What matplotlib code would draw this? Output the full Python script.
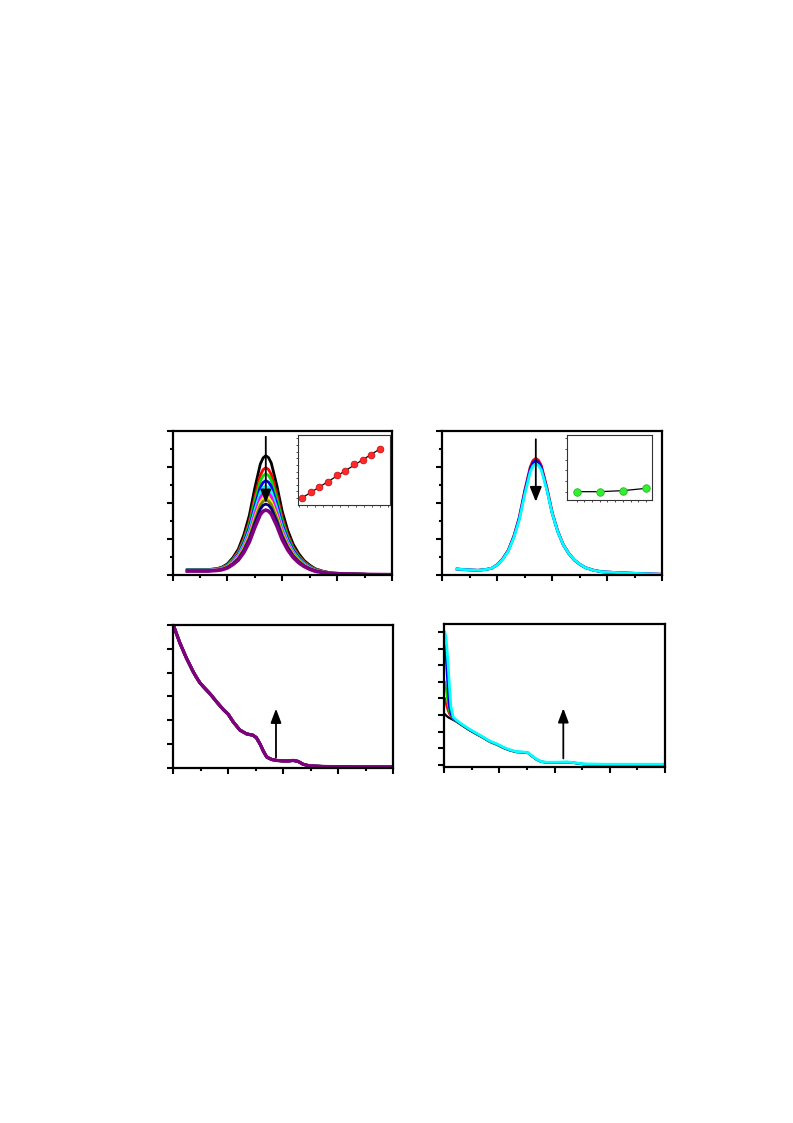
import matplotlib
matplotlib.use("Agg")
import matplotlib.pyplot as plt
from matplotlib.ticker import MultipleLocator
import numpy as np

# ---------------- data ----------------
# Panel 1 / 2 : emission-like spectra (wavelength grid)
x12 = [427, 445, 465, 480, 490, 500, 510, 520, 530, 540, 550, 560, 565, 570, 575, 580,
       590, 600, 610, 620, 630, 640, 650, 660, 675, 690, 720, 760, 800]

p1_colors = ["black", "red", "#00dd00", "blue", "cyan", "magenta", "#eeee00",
             "#808000", "#000080", "#800080"]
p1_black = [.30, .30, .30, .35, .43, .62, .96, 1.44, 2.23, 3.31, 4.83, 6.16, 6.50, 6.63, 6.52, 6.22,
            4.99, 3.53, 2.48, 1.71, 1.19, .80, .55, .35, .20, .11, .07, .03, .02]
p1_red = [.29, .29, .29, .34, .40, .57, .89, 1.31, 2.02, 2.98, 4.34, 5.53, 5.85, 5.96, 5.86, 5.59,
          4.49, 3.18, 2.24, 1.54, 1.08, .73, .50, .32, .19, .11, .06, .03, .02]
p1_green = [.28, .28, .28, .32, .39, .55, .84, 1.24, 1.91, 2.82, 4.10, 5.22, 5.51, 5.62, 5.53, 5.27,
            4.24, 3.00, 2.11, 1.46, 1.02, .69, .47, .31, .18, .10, .06, .03, .02]
p1_blue = [.27, .27, .27, .31, .37, .52, .79, 1.17, 1.79, 2.63, 3.82, 4.87, 5.14, 5.24, 5.16, 4.92,
           3.96, 2.81, 1.98, 1.37, .96, .65, .44, .29, .17, .10, .06, .03, .02]
p1_cyan = [.27, .27, .27, .31, .36, .50, .76, 1.11, 1.69, 2.49, 3.61, 4.59, 4.85, 4.94, 4.86, 4.64,
           3.73, 2.65, 1.87, 1.29, .90, .62, .42, .27, .16, .09, .06, .03, .02]
p1_magenta = [.26, .26, .26, .30, .35, .48, .72, 1.05, 1.59, 2.34, 3.39, 4.30, 4.54, 4.63, 4.56, 4.35,
              3.50, 2.49, 1.76, 1.22, .85, .58, .40, .26, .16, .09, .06, .03, .02]
p1_yellow = [.25, .25, .25, .28, .33, .46, .68, .99, 1.50, 2.20, 3.18, 4.04, 4.27, 4.35, 4.28, 4.08,
             3.29, 2.34, 1.66, 1.15, .81, .55, .38, .25, .15, .09, .06, .03, .02]
p1_dkyellow = [.24, .24, .24, .27, .32, .44, .65, .95, 1.44, 2.11, 3.05, 3.88, 4.09, 4.17, 4.10, 3.92,
               3.16, 2.25, 1.59, 1.10, .78, .53, .36, .24, .15, .09, .06, .03, .02]
p1_navy = [.23, .23, .23, .26, .30, .42, .62, .90, 1.36, 1.99, 2.88, 3.66, 3.87, 3.94, 3.88, 3.70,
           2.99, 2.13, 1.51, 1.05, .74, .50, .35, .23, .14, .08, .06, .03, .02]
p1_purple = [.22, .22, .22, .25, .29, .39, .58, .83, 1.25, 1.83, 2.64, 3.36, 3.54, 3.61, 3.55, 3.39,
             2.74, 1.96, 1.39, .97, .68, .47, .32, .21, .13, .08, .05, .03, .02]
p1_series = [p1_black, p1_red, p1_green, p1_blue, p1_cyan, p1_magenta, p1_yellow,
             p1_dkyellow, p1_navy, p1_purple]

# inset 1 (linear)
ins1_x = [1, 2, 3, 4, 5, 6, 7, 8, 9, 10]
ins1_y = [0.095, 0.18, 0.25, 0.33, 0.43, 0.49, 0.58, 0.64, 0.71, 0.805]

# panel 2
p2_colors = ["red", "blue", "cyan"]
p2_red = [.33, .29, .26, .31, .38, .57, .91, 1.38, 2.16, 3.21, 4.71, 6.01, 6.36, 6.48, 6.37, 6.08,
          4.88, 3.46, 2.44, 1.70, 1.21, .84, .60, .41, .27, .18, .13, .08, .04]
p2_blue = [.33, .29, .26, .31, .38, .57, .90, 1.36, 2.12, 3.16, 4.62, 5.90, 6.24, 6.36, 6.26, 5.96,
           4.79, 3.40, 2.40, 1.67, 1.18, .83, .59, .41, .26, .18, .13, .08, .04]
p2_cyan = [.33, .29, .26, .31, .38, .56, .88, 1.33, 2.07, 3.07, 4.49, 5.74, 6.06, 6.18, 6.08, 5.84,
           4.74, 3.40, 2.40, 1.68, 1.19, .84, .60, .41, .26, .18, .13, .08, .04]
p2_series = [p2_red, p2_blue, p2_cyan]

# inset 2
ins2_x = [1, 2, 3, 4]
ins2_y = [0.128, 0.128, 0.144, 0.179]

# panel 3 : absorption spectrum (all traces overlap)
x3 = [200, 212, 224, 230, 236, 242, 248, 254, 267, 279, 291, 300, 309, 321, 333, 345, 351,
      358, 364, 370, 379, 388, 400, 409, 418, 427, 436, 448, 479, 539, 600]
abs3 = [3.00, 2.62, 2.30, 2.16, 2.02, 1.90, 1.79, 1.71, 1.55, 1.38, 1.22, 1.12, 0.96, 0.79,
        0.71, 0.68, 0.63, 0.49, 0.34, 0.22, 0.17, 0.15, 0.14, 0.14, 0.15, 0.13, 0.07, 0.035,
        0.021, 0.014, 0.014]

# panel 4 : absorption spectra
x4 = [201, 203, 205, 207, 209, 212, 216, 222, 234, 246, 259, 271, 283, 295, 307, 319,
      331, 343, 352, 358, 367, 376, 386, 404, 422, 434, 452, 488, 537, 600]
p4_colors = ["black", "red", "#00dd00", "blue", "cyan"]
p4_black = [3.05, 2.98, 2.92, 2.87, 2.83, 2.78, 2.71, 2.60, 2.33, 2.07, 1.83, 1.61, 1.37,
            1.21, 1.01, 0.86, 0.76, 0.74, 0.70, 0.53, 0.31, 0.17, 0.13, 0.13, 0.15, 0.11,
            0.03, 0.02, 0.02, 0.02]
p4_red = [4.00, 3.70, 3.45, 3.25, 3.08, 2.92, 2.76, 2.63, 2.36, 2.10, 1.85, 1.63, 1.39,
          1.23, 1.03, 0.87, 0.77, 0.75, 0.71, 0.54, 0.32, 0.18, 0.14, 0.14, 0.16, 0.12,
          0.04, 0.02, 0.02, 0.02]
p4_green = [5.00, 4.60, 4.10, 3.60, 3.25, 3.00, 2.78, 2.64, 2.36, 2.10, 1.85, 1.63, 1.39,
            1.23, 1.03, 0.87, 0.77, 0.75, 0.71, 0.54, 0.32, 0.18, 0.14, 0.14, 0.16, 0.12,
            0.04, 0.02, 0.02, 0.02]
p4_blue = [7.20, 6.50, 5.40, 4.30, 3.50, 3.05, 2.80, 2.65, 2.37, 2.11, 1.86, 1.64, 1.40,
           1.24, 1.04, 0.88, 0.78, 0.76, 0.72, 0.55, 0.33, 0.18, 0.14, 0.14, 0.16, 0.12,
           0.04, 0.02, 0.02, 0.02]
p4_cyan = [8.00, 7.70, 6.90, 6.00, 4.90, 3.50, 2.88, 2.69, 2.40, 2.14, 1.89, 1.66, 1.42,
           1.26, 1.06, 0.90, 0.79, 0.77, 0.73, 0.56, 0.34, 0.19, 0.15, 0.15, 0.17, 0.13,
           0.05, 0.03, 0.03, 0.03]
p4_series = [p4_black, p4_red, p4_green, p4_blue, p4_cyan]

# ---------------- figure ----------------
W, H = 793, 1123
fig = plt.figure(figsize=(W / 100, H / 100), dpi=100)


def rect(l, t, r, b):
    return [l / W, 1 - b / H, (r - l) / W, (b - t) / H]


def style_main(ax, xlim, ylim, xmaj, xmin, ymaj, ymin):
    ax.set_xlim(*xlim)
    ax.set_ylim(*ylim)
    for s in ax.spines.values():
        s.set_linewidth(1.6)
    ax.xaxis.set_major_locator(MultipleLocator(xmaj))
    ax.xaxis.set_minor_locator(MultipleLocator(xmin))
    ax.yaxis.set_major_locator(MultipleLocator(ymaj))
    if ymin:
        ax.yaxis.set_minor_locator(MultipleLocator(ymin))
    ax.tick_params(which="both", direction="out", top=False, right=False,
                   labelbottom=False, labelleft=False)
    ax.tick_params(which="major", length=4.5, width=1.5)
    ax.tick_params(which="minor", length=2.5, width=1.5)


def style_inset(ax):
    for s in ax.spines.values():
        s.set_linewidth(0.8)
        s.set_color("#333333")
    ax.tick_params(which="both", direction="out", length=1.5, width=0.6,
                   top=False, right=False, labelbottom=False, labelleft=False,
                   colors="#333333")


def arrow(ax, x, y0, y1, hl=0.8, hw=0.32):
    ax.annotate("", xy=(x, y1), xytext=(x, y0),
                arrowprops=dict(arrowstyle=f"-|>,head_length={hl},head_width={hw}",
                                color="black", lw=1.3, mutation_scale=10,
                                shrinkA=0, shrinkB=0),
                zorder=20)


# Panel 1
ax1 = fig.add_axes(rect(172.5, 431, 392, 575))
for ys, c in zip(p1_series, p1_colors):
    ax1.plot(x12, ys, color=c, lw=2.0 if c != "#800080" else 2.6, solid_joinstyle="round")
style_main(ax1, (400, 800), (0, 8), 100, 50, 2, 1)
arrow(ax1, 570, 7.68, 4.0)

in1 = fig.add_axes(rect(298.3, 435, 390, 505))
coef = np.polyfit(ins1_x, ins1_y, 1)
in1.plot([ins1_x[0], ins1_x[-1]], np.polyval(coef, [ins1_x[0], ins1_x[-1]]),
         color="black", lw=0.9, zorder=2)
in1.plot(ins1_x, ins1_y, "o", ms=4.8, mfc="#ff2a2a", mec="#d01010", mew=0.6, zorder=3)
in1.set_xlim(0.58, 11.15)
in1.set_ylim(0, 1)
in1.set_xticks(np.linspace(0.7, 10.9, 12))
in1.set_yticks(np.linspace(0.1, 0.95, 10))
style_inset(in1)

# Panel 2
ax2 = fig.add_axes(rect(442.3, 431, 662.3, 575))
for ys, c in zip(p2_series, p2_colors):
    ax2.plot(x12, ys, color=c, lw=2.0, solid_joinstyle="round")
style_main(ax2, (400, 800), (0, 8), 100, 50, 2, 1)
arrow(ax2, 570, 7.54, 4.07, hl=0.9, hw=0.36)

in2 = fig.add_axes(rect(567.3, 435, 652.3, 500))
in2.plot(ins2_x, ins2_y, color="black", lw=0.9, zorder=2)
in2.plot(ins2_x, ins2_y, "o", ms=5.4, mfc="#33ee33", mec="#22bb22", mew=0.6, zorder=3)
in2.set_xlim(0.595, 4.275)
in2.set_ylim(0, 1)
in2.set_xticks(np.linspace(1.0, 4.0, 10))
in2.set_yticks(np.linspace(0.13, 0.95, 6))
style_inset(in2)

# Panel 3
ax3 = fig.add_axes(rect(173.3, 625, 393.3, 768.3))
for c in p1_colors:
    ax3.plot(x3, abs3, color=c, lw=2.0 if c != "#800080" else 2.4, solid_joinstyle="round")
style_main(ax3, (200, 600), (-0.015, 3.0), 100, 50, 0.5, None)
arrow(ax3, 386.7, 0.21, 1.24, hl=0.85, hw=0.32)

# Panel 4
ax4 = fig.add_axes(rect(444.3, 624, 665, 766.7))
for ys, c in zip(p4_series, p4_colors):
    ax4.plot(x4, ys, color=c, lw=1.6 if c != "cyan" else 2.0, solid_joinstyle="round")
style_main(ax4, (200, 600), (-0.12, 8.5), 100, 50, 1, None)
arrow(ax4, 415.7, 0.38, 3.41, hl=0.85, hw=0.32)

fig.savefig("out.png", dpi=100, facecolor="white")
